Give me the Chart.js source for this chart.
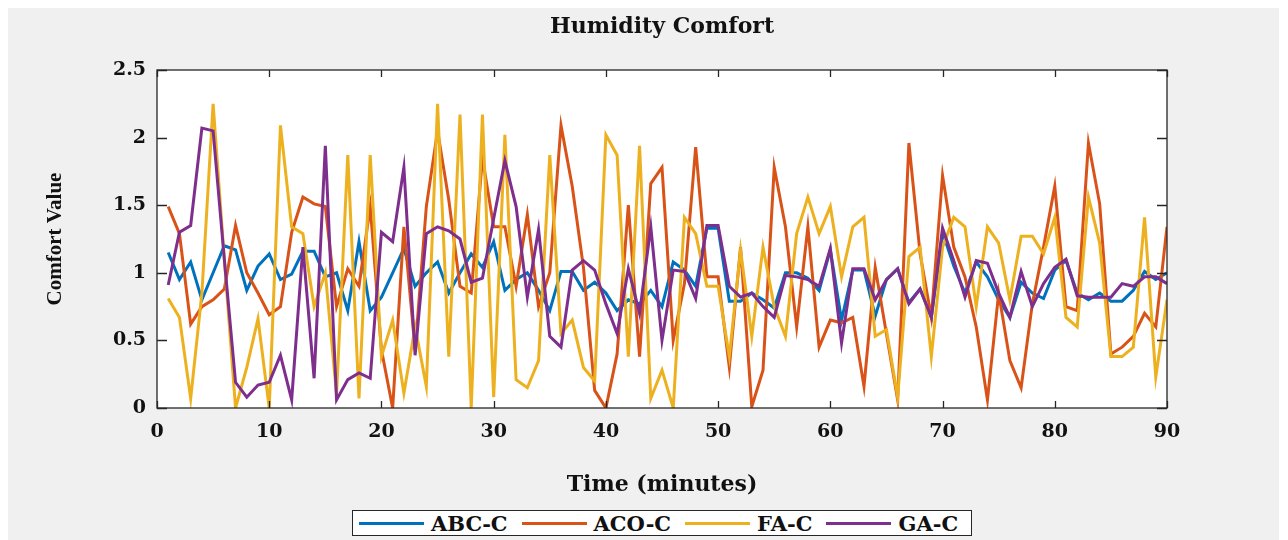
<!DOCTYPE html>
<html>
<head>
<meta charset="utf-8">
<title>Humidity Comfort</title>
<script src="https://cdn.jsdelivr.net/npm/chart.js@4.4.1/dist/chart.umd.min.js"></script>
<style>
  html, body { margin: 0; padding: 0; background: #fff; }
  #wrap { position: relative; width: 1288px; height: 540px; }
  #legend {
    position: absolute; left: 352px; top: 510px; width: 620px; height: 26px;
    box-sizing: border-box; border: 1px solid #262626; background: #fff;
    display: flex; align-items: center; padding-left: 6px; white-space: nowrap;
    font: bold 21px "DejaVu Serif", serif; line-height: 1; color: #111;
  }
  #legend .item { display: flex; align-items: center; flex-shrink: 0; margin-right: 14px; }
  #legend .swatch { width: 65px; height: 3px; margin-right: 7px; flex-shrink: 0; }
</style>
</head>
<body>
<div id="wrap">
  <canvas id="comfortChart" width="1288" height="540"></canvas>
  <div id="legend"></div>
</div>
<script>
(function () {
  "use strict";

  // time axis (minutes)
  const minutes = [
    1, 2, 3, 4, 5, 6, 7, 8, 9, 10, 11, 12, 13, 14, 15, 16, 17, 18, 19, 20,
    21, 22, 23, 24, 25, 26, 27, 28, 29, 30, 31, 32, 33, 34, 35, 36, 37, 38, 39, 40,
    41, 42, 43, 44, 45, 46, 47, 48, 49, 50, 51, 52, 53, 54, 55, 56, 57, 58, 59, 60,
    61, 62, 63, 64, 65, 66, 67, 68, 69, 70, 71, 72, 73, 74, 75, 76, 77, 78, 79, 80,
    81, 82, 83, 84, 85, 86, 87, 88, 89, 90
  ];

  const abcC = [
    1.15, 0.95, 1.08, 0.80, 1.00, 1.20, 1.17, 0.87, 1.05, 1.14,
    0.95, 0.99, 1.16, 1.16, 0.97, 1.00, 0.72, 1.23, 0.72, 0.82,
    1.00, 1.18, 0.90, 1.00, 1.08, 0.85, 1.00, 1.14, 1.04, 1.23,
    0.87, 0.95, 1.00, 0.87, 0.72, 1.01, 1.01, 0.87, 0.93, 0.85,
    0.72, 0.80, 0.77, 0.87, 0.75, 1.08, 1.02, 0.90, 1.33, 1.33,
    0.79, 0.79, 0.85, 0.80, 0.74, 1.00, 1.00, 0.96, 0.87, 1.17,
    0.65, 1.02, 1.02, 0.68, 0.95, 1.03, 0.78, 0.88, 0.67, 1.30,
    1.05, 0.85, 1.08, 0.97, 0.80, 0.67, 0.93, 0.85, 0.81, 1.02,
    1.09, 0.85, 0.80, 0.85, 0.79, 0.79, 0.87, 1.01, 0.95, 1.00
  ];

  const acoC = [
    1.49, 1.29, 0.62, 0.75, 0.80, 0.88, 1.35, 1.00, 0.85, 0.69,
    0.75, 1.30, 1.56, 1.51, 1.49, 0.75, 1.03, 0.90, 1.49, 0.43,
    0.00, 1.34, 0.43, 1.49, 2.05, 1.54, 0.90, 0.85, 1.85, 1.34,
    1.34, 0.90, 1.43, 0.75, 1.00, 2.09, 1.64, 1.04, 0.13, 0.00,
    0.40, 1.50, 0.38, 1.66, 1.78, 0.50, 0.92, 1.93, 0.97, 0.97,
    0.30, 1.19, 0.01, 0.28, 1.78, 1.34, 0.60, 1.34, 0.45, 0.65,
    0.63, 0.67, 0.16, 1.04, 0.55, 0.06, 1.96, 1.14, 0.67, 1.72,
    1.19, 0.97, 0.60, 0.06, 0.85, 0.35, 0.15, 0.77, 1.19, 1.64,
    0.75, 0.72, 1.96, 1.51, 0.40, 0.45, 0.53, 0.70, 0.60, 1.34
  ];

  const faC = [
    0.81, 0.67, 0.07, 0.85, 2.25, 1.10, 0.00, 0.30, 0.66, 0.00,
    2.09, 1.34, 1.29, 0.75, 1.00, 0.10, 1.87, 0.07, 1.87, 0.38,
    0.65, 0.11, 0.60, 0.16, 2.25, 0.38, 2.17, 0.00, 2.17, 0.08,
    2.02, 0.21, 0.15, 0.35, 1.87, 0.55, 0.65, 0.30, 0.20, 2.02,
    1.87, 0.38, 1.94, 0.07, 0.28, 0.00, 1.41, 1.29, 0.90, 0.90,
    0.38, 1.17, 0.53, 1.19, 0.75, 0.53, 1.29, 1.56, 1.29, 1.49,
    0.97, 1.34, 1.41, 0.53, 0.58, 0.08, 1.12, 1.19, 0.38, 1.19,
    1.41, 1.34, 0.75, 1.34, 1.22, 0.80, 1.27, 1.27, 1.14, 1.41,
    0.67, 0.60, 1.56, 1.22, 0.38, 0.38, 0.45, 1.41, 0.23, 0.80
  ];

  const gaC = [
    0.91, 1.30, 1.35, 2.07, 2.05, 1.10, 0.19, 0.08, 0.17, 0.19,
    0.39, 0.06, 1.19, 0.22, 1.94, 0.06, 0.21, 0.26, 0.22, 1.30,
    1.23, 1.78, 0.39, 1.29, 1.34, 1.31, 1.25, 0.93, 0.96, 1.40,
    1.83, 1.49, 0.82, 1.32, 0.53, 0.45, 1.02, 1.09, 1.02, 0.77,
    0.55, 1.03, 0.70, 1.34, 0.50, 1.02, 1.01, 0.81, 1.35, 1.35,
    0.90, 0.82, 0.85, 0.75, 0.67, 0.98, 0.97, 0.95, 0.90, 1.18,
    0.48, 1.03, 1.03, 0.80, 0.95, 1.03, 0.77, 0.88, 0.67, 1.33,
    1.09, 0.82, 1.09, 1.07, 0.85, 0.67, 1.01, 0.75, 0.92, 1.04,
    1.10, 0.83, 0.82, 0.82, 0.82, 0.92, 0.90, 0.97, 0.97, 0.92
  ];

  const seriesNames = ["ABC-C", "ACO-C", "FA-C", "GA-C"];
  const seriesColors = ["#0072BD", "#D95319", "#EDB120", "#7E2F8E"];
  const seriesValues = [abcC, acoC, faC, gaC];

  const xTicks = [0, 10, 20, 30, 40, 50, 60, 70, 80, 90];
  const yTicks = [0, 0.5, 1, 1.5, 2, 2.5];

  const AXIS_COLOR = "#262626";
  const TICK_FONT = { family: "'DejaVu Serif'", weight: "bold", size: 19 };

  function toPoints(values) {
    return values.map((v, i) => ({ x: minutes[i], y: v }));
  }

  // gray figure, white axes box, inward ticks on all four sides
  const figureFrame = {
    id: "figureFrame",
    beforeDraw(chart) {
      const { ctx, chartArea } = chart;
      ctx.save();
      ctx.fillStyle = "#f0f0f0";
      ctx.fillRect(8, 8, 1271, 532);
      ctx.fillStyle = "#ffffff";
      ctx.fillRect(chartArea.left, chartArea.top,
        chartArea.right - chartArea.left, chartArea.bottom - chartArea.top);
      ctx.restore();
    },
    afterDatasetsDraw(chart) {
      const { ctx, chartArea, scales } = chart;
      const { left, right, top, bottom } = chartArea;
      ctx.save();
      ctx.strokeStyle = AXIS_COLOR;
      ctx.lineWidth = 1.3;
      ctx.strokeRect(left, top, right - left, bottom - top);
      ctx.beginPath();
      xTicks.forEach(v => {
        const px = Math.round(scales.x.getPixelForValue(v)) + 0.5;
        ctx.moveTo(px, bottom); ctx.lineTo(px, bottom - 7);
        ctx.moveTo(px, top); ctx.lineTo(px, top + 7);
      });
      yTicks.forEach(v => {
        const py = Math.round(scales.y.getPixelForValue(v)) + 0.5;
        ctx.moveTo(left, py); ctx.lineTo(left + 10, py);
        ctx.moveTo(right, py); ctx.lineTo(right - 10, py);
      });
      ctx.stroke();
      ctx.restore();
    }
  };

  const datasets = seriesNames.map((name, i) => ({
    label: name,
    data: toPoints(seriesValues[i]),
    borderColor: seriesColors[i],
    backgroundColor: seriesColors[i],
    borderWidth: 3,
    pointRadius: 0,
    tension: 0,
    fill: false,
    order: seriesNames.length - i
  }));

  new Chart(document.getElementById("comfortChart"), {
    type: "line",
    data: { datasets },
    plugins: [figureFrame],
    options: {
      responsive: false,
      animation: false,
      layout: { padding: { top: 0, right: 121, bottom: 0, left: 0 } },
      plugins: {
        legend: { display: false },
        tooltip: { enabled: false },
        title: {
          display: true,
          fullSize: false,
          text: "Humidity Comfort",
          color: "#111",
          font: { family: "'DejaVu Serif'", weight: "bold", size: 22, lineHeight: 1.2 },
          padding: { top: 14, bottom: 29.6 }
        }
      },
      scales: {
        x: {
          type: "linear",
          min: 0,
          max: 90,
          afterBuildTicks(scale) { scale.ticks = xTicks.map(v => ({ value: v })); },
          afterFit(scale) { scale.height = 132; },
          grid: { display: false, drawTicks: false },
          border: { display: false },
          ticks: { color: "#111", font: TICK_FONT, padding: 13, maxRotation: 0,
            callback: v => String(v) },
          title: {
            display: true,
            text: "Time (minutes)",
            color: "#111",
            font: { family: "'DejaVu Serif'", weight: "bold", size: 22, lineHeight: 1.2 },
            padding: { top: 0, bottom: 42 }
          }
        },
        y: {
          type: "linear",
          min: 0,
          max: 2.5,
          afterBuildTicks(scale) { scale.ticks = yTicks.map(v => ({ value: v })); },
          afterFit(scale) { scale.width = 157; },
          grid: { display: false, drawTicks: false },
          border: { display: false },
          ticks: { color: "#111", font: TICK_FONT, padding: 11,
            callback: v => String(v) },
          title: {
            display: true,
            text: "Comfort Value",
            color: "#111",
            font: { family: "'Liberation Serif'", weight: "bold", size: 21, lineHeight: 1.2 },
            padding: { top: 43, bottom: 0 }
          }
        }
      }
    }
  });

  // legend box under the axis label
  const legendEl = document.getElementById("legend");
  legendEl.innerHTML = seriesNames.map((name, i) =>
    `<span class="item"><span class="swatch" style="background:${seriesColors[i]}"></span>${name}</span>`
  ).join("");
})();
</script>
</body>
</html>
